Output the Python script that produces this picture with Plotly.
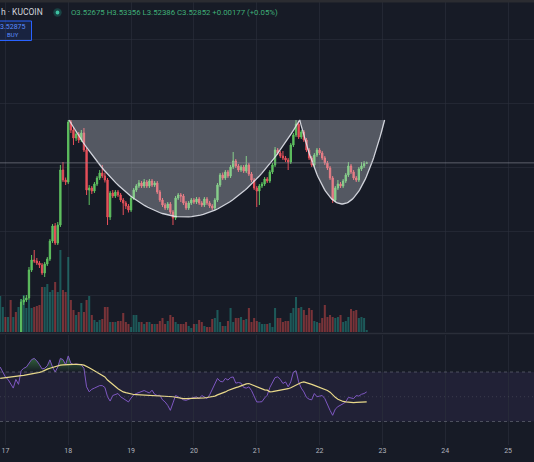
import numpy as np
import pandas as pd
import plotly.graph_objects as go

# ---------------- data ----------------
bar_start = "2023-03-16 22:00"   # hourly bars

opens = [
    2.79, 2.80, 2.812, 2.796, 2.82, 2.804, 2.828, 2.816, 2.836, 2.972,
    2.98, 2.988, 3.10, 3.14, 3.136, 3.128, 3.12,
    3.088, 3.124, 3.144, 3.216, 3.276, 3.208, 3.28, 3.50, 3.46, 3.452,
    3.692, 3.66, 3.628, 3.644, 3.62, 3.648, 3.58, 3.42, 3.428, 3.416,
    3.444, 3.468, 3.488, 3.476, 3.46, 3.312, 3.408, 3.396, 3.412, 3.40,
    3.38, 3.368, 3.356, 3.34, 3.388, 3.42, 3.436, 3.448, 3.436, 3.452,
    3.436, 3.456, 3.44, 3.448, 3.412, 3.38, 3.36, 3.348, 3.364, 3.332,
    3.308, 3.388,
    3.40, 3.396, 3.368, 3.348, 3.368, 3.38, 3.372, 3.384, 3.368,
    3.36, 3.384, 3.368, 3.356, 3.348, 3.38, 3.44, 3.48, 3.468, 3.492,
    3.476, 3.512, 3.536, 3.516, 3.50, 3.512, 3.496, 3.52, 3.484, 3.46,
    3.428, 3.416, 3.436, 3.444, 3.464, 3.456, 3.492, 3.52, 3.58, 3.568,
    3.556, 3.548, 3.54, 3.532, 3.60, 3.64, 3.684, 3.632, 3.652,
    3.62, 3.58, 3.548, 3.52, 3.56, 3.58, 3.568, 3.548, 3.528, 3.508,
    3.468, 3.38, 3.428, 3.444, 3.436, 3.456, 3.48, 3.516, 3.492, 3.468,
    3.46, 3.504, 3.516, 3.52675,
]
highs = [
    2.81, 2.82, 2.82, 2.828, 2.83, 2.836, 2.836, 2.844, 2.984, 2.996,
    3.00, 3.112, 3.16, 3.18, 3.148, 3.136, 3.128,
    3.132, 3.152, 3.224, 3.284, 3.288, 3.292, 3.52, 3.532, 3.47, 3.70,
    3.70, 3.672, 3.656, 3.652, 3.66, 3.668, 3.588, 3.44, 3.436, 3.452,
    3.476, 3.50, 3.52, 3.49, 3.468, 3.416, 3.42, 3.42, 3.42, 3.408,
    3.388, 3.376, 3.364, 3.396, 3.428, 3.444, 3.46, 3.456, 3.464, 3.46,
    3.464, 3.464, 3.456, 3.456, 3.42, 3.388, 3.368, 3.372, 3.372, 3.34,
    3.396, 3.408,
    3.408, 3.404, 3.376, 3.376, 3.388, 3.388, 3.392, 3.392, 3.376,
    3.392, 3.392, 3.376, 3.364, 3.388, 3.448, 3.488, 3.49, 3.50, 3.50,
    3.52, 3.572, 3.544, 3.524, 3.52, 3.52, 3.556, 3.528, 3.492, 3.468,
    3.436, 3.444, 3.452, 3.472, 3.472, 3.50, 3.528, 3.592, 3.588, 3.576,
    3.576, 3.556, 3.548, 3.608, 3.648, 3.70, 3.696, 3.66, 3.66,
    3.628, 3.588, 3.556, 3.568, 3.588, 3.588, 3.576, 3.556, 3.536, 3.516,
    3.476, 3.436, 3.46, 3.452, 3.464, 3.488, 3.532, 3.524, 3.50, 3.476,
    3.512, 3.532, 3.536, 3.53356,
]
lows = [
    2.782, 2.792, 2.788, 2.788, 2.796, 2.80, 2.808, 2.81, 2.83, 2.96,
    2.972, 2.98, 3.092, 3.128, 3.12, 3.108, 3.08,
    3.072, 3.116, 3.136, 3.208, 3.20, 3.20, 3.272, 3.452, 3.44, 3.444,
    3.648, 3.60, 3.616, 3.608, 3.612, 3.572, 3.40, 3.36, 3.404, 3.408,
    3.436, 3.46, 3.468, 3.45, 3.28, 3.30, 3.388, 3.388, 3.392, 3.372,
    3.32, 3.344, 3.33, 3.332, 3.38, 3.412, 3.428, 3.428, 3.428, 3.428,
    3.428, 3.432, 3.432, 3.404, 3.372, 3.352, 3.34, 3.34, 3.324, 3.28,
    3.30, 3.38,
    3.372, 3.36, 3.34, 3.34, 3.36, 3.364, 3.364, 3.36, 3.352,
    3.352, 3.36, 3.348, 3.34, 3.34, 3.372, 3.432, 3.46, 3.46, 3.468,
    3.468, 3.504, 3.508, 3.492, 3.492, 3.488, 3.488, 3.476, 3.452, 3.42,
    3.352, 3.36, 3.428, 3.436, 3.448, 3.448, 3.484, 3.512, 3.56, 3.548,
    3.54, 3.532, 3.50, 3.524, 3.592, 3.632, 3.624, 3.624, 3.612,
    3.572, 3.54, 3.512, 3.512, 3.552, 3.56, 3.54, 3.52, 3.50, 3.46,
    3.368, 3.372, 3.42, 3.428, 3.428, 3.448, 3.472, 3.484, 3.46, 3.452,
    3.452, 3.496, 3.508, 3.52386,
]
closes = [
    2.80, 2.812, 2.796, 2.82, 2.804, 2.828, 2.816, 2.836, 2.972, 2.98,
    2.988, 3.10, 3.14, 3.136, 3.128, 3.12, 3.088,
    3.124, 3.144, 3.216, 3.276, 3.208, 3.28, 3.50, 3.46, 3.452, 3.692,
    3.66, 3.628, 3.644, 3.62, 3.648, 3.58, 3.42, 3.428, 3.416, 3.444,
    3.468, 3.488, 3.476, 3.46, 3.312, 3.408, 3.396, 3.412, 3.40, 3.38,
    3.368, 3.356, 3.34, 3.388, 3.42, 3.436, 3.448, 3.436, 3.452, 3.436,
    3.456, 3.44, 3.448, 3.412, 3.38, 3.36, 3.348, 3.364, 3.332, 3.308,
    3.388, 3.40,
    3.396, 3.368, 3.348, 3.368, 3.38, 3.372, 3.384, 3.368, 3.36,
    3.384, 3.368, 3.356, 3.348, 3.38, 3.44, 3.48, 3.468, 3.492, 3.476,
    3.512, 3.536, 3.516, 3.50, 3.512, 3.496, 3.52, 3.484, 3.46, 3.428,
    3.416, 3.436, 3.444, 3.464, 3.456, 3.492, 3.52, 3.58, 3.568, 3.556,
    3.548, 3.54, 3.532, 3.60, 3.64, 3.684, 3.632, 3.652, 3.62,
    3.58, 3.548, 3.52, 3.56, 3.58, 3.568, 3.548, 3.528, 3.508, 3.468,
    3.38, 3.428, 3.444, 3.436, 3.456, 3.48, 3.516, 3.492, 3.468, 3.46,
    3.504, 3.516, 3.52675, 3.52852,
]
volumes = [
    36, 25, 15, 15, 32, 15, 20, 25, 33, 37,
    24, 32, 24, 25, 26, 27, 45,
    45, 48, 40, 42, 50, 40, 82, 42, 40, 75,
    32, 22, 17, 20, 29, 20, 32, 36, 17, 12,
    10, 12, 13, 25, 25, 10, 10, 10, 11, 11,
    19, 10, 8, 5, 17, 17, 10, 10, 8, 10,
    10, 8, 8, 8, 11, 14, 8, 11, 17, 15,
    10, 8,
    8, 8, 10, 6, 4, 8, 8, 12, 10,
    6, 5, 5, 13, 14, 22, 10, 6, 6, 11,
    24, 10, 14, 14, 15, 12, 13, 24, 10, 14,
    11, 10, 8, 8, 8, 9, 5, 24, 14, 14,
    10, 11, 11, 19, 24, 35, 24, 25, 22,
    17, 24, 22, 11, 10, 9, 14, 27, 15, 17,
    15, 14, 15, 17, 10, 11, 15, 23, 21, 22,
    14, 15, 14, 2,
]
rsi_values = [
    74, 70, 66, 64, 61, 57, 64, 60, 71, 73,
    74, 77, 80, 81, 79, 76, 72.5,
    73, 75, 79.8, 74, 70, 74, 81, 80, 76, 83,
    77, 76, 76.5, 76, 75.7, 73, 58, 54, 56, 57,
    58, 59, 59, 57.5, 50, 46.5, 51, 52, 52.6, 50,
    48.5, 47, 45.8, 49, 51.5, 52.6, 53.5, 53.9, 55, 54,
    53, 55.3, 52, 51, 51.2, 47.5, 45.8, 43, 39, 45,
    51, 50,
    48.5, 47.5, 47.1, 48, 48.5, 49.5, 49.8, 48.5, 51,
    50, 48.5, 51.5, 56, 60.7, 64.8, 62.5, 62, 64.8, 63.5,
    65.5, 66, 61, 61.5, 61, 57.5, 57, 58, 55, 50,
    45.8, 45.8, 46, 49, 51.2, 57.5, 62, 65.5, 66, 64,
    60.7, 62, 58, 62, 70, 71, 62, 57, 53.9,
    49.5, 48, 47.5, 52.6, 50, 50.5, 51, 48.5, 43, 39,
    35, 40, 42, 43, 44.4, 45.8, 49.5, 49, 48.5, 51,
    50.5, 52, 52.6, 53.9,
]
rsi_ma_values = [
    64.8, 65, 65.3, 65.5, 65.8, 66, 66.3, 66.6, 67, 67.3,
    67.6, 68, 68.4, 68.8, 69.2, 69.7, 70.3,
    71.6, 72.3, 73, 73.7, 74.3, 75, 75.6, 75.8, 76, 76.1,
    76.2, 76.2, 76.2, 76.2, 76, 75.5, 74.8, 73.5, 72.2, 71,
    69.8, 69, 67.5, 66, 63.5, 61.5, 60, 58.3, 56.5, 55,
    53.9, 53.3, 52.7, 52.2, 51.8, 51.7, 51.6, 51.5, 51.4, 51.3,
    51.2, 51.1, 51, 50.8, 50.7, 50.6, 50.5, 50.4, 50.2, 50,
    49.6, 49.2,
    48.6, 48.5, 48.5, 48.5, 48.5, 48.5, 48.5, 48.5, 48.8,
    49.1, 49.4, 49.7, 49.8, 50.5, 51.5, 52.2, 53, 53.9, 55,
    56, 56.8, 57.4, 58, 59, 59.8, 60.4, 60.7, 59.8, 58.8,
    58, 57, 56.2, 55.6, 55.3, 54, 54.2, 54.5, 54.8, 55.1,
    55.6, 55.9, 56.5, 57.3, 58.5, 59.4, 60.5, 61.5, 62,
    61.5, 60.8, 60, 59.2, 58.4, 57.8, 57, 56.2, 55, 53.7,
    51.2, 49.5, 48, 46.8, 46.2, 45.8, 45.5, 45.3, 45.3, 45.4,
    45.5, 45.6, 45.7, 45.8,
]

# cup & handle drawing (rim / bottoms)
cup_times = ["2023-03-18 00:15", "2023-03-21 16:25", "2023-03-23 00:50"]
cup_rim_price = 3.70
cup_bottom_prices = [3.312, 3.364]

last_price = 3.52852
price_grid = [3.0, 3.256, 3.512, 3.768, 4.024]
rsi_levels = [70, 50, 30]
header_symbol = "h · KUCOIN"
header_ohlc = "O3.52675 H3.53356 L3.52386 C3.52852 +0.00177 (+0.05%)"
buy_price_text = "3.52875"
buy_text = "BUY"
x_view = ["2023-03-16 21:56", "2023-03-25 09:54"]
first_day_tick = "2023-03-17"

# ---------------- style ----------------
W, H = 534, 462
BG = "#171b26"
GRID = "rgba(44,48,60,0.6)"
UP = "#5fc160"
DOWN = "#e6505a"
FONT = "Roboto"

def px_x(x):
    return x / W

def px_y(y):
    return 1 - y / H

times = pd.date_range(bar_start, periods=len(closes), freq="h")
o = np.array(opens); c = np.array(closes)
vol_colors = ["rgba(38,166,154,0.45)" if cc >= oo else "rgba(239,83,80,0.45)" for oo, cc in zip(o, c)]

fig = go.Figure()

# volume (behind candles)
fig.add_trace(go.Bar(x=times, y=volumes, marker=dict(color=vol_colors, line=dict(width=0)),
                     width=3600000 * 0.78, xaxis="x", yaxis="y", showlegend=False, hoverinfo="skip"))

# candles
fig.add_trace(go.Candlestick(
    x=times, open=opens, high=highs, low=lows, close=closes,
    increasing=dict(line=dict(color=UP, width=1), fillcolor=UP),
    decreasing=dict(line=dict(color=DOWN, width=1), fillcolor=DOWN),
    whiskerwidth=0, xaxis="x", yaxis="y3", showlegend=False, hoverinfo="skip"))

# cup & handle curves (quadratic Bezier between rim points)
def curve(t_a, t_b, rim, bottom, n=80):
    ta, tb = pd.Timestamp(t_a), pd.Timestamp(t_b)
    s = np.linspace(0, 1, n)
    ctrl = 2 * bottom - rim
    yy = (1 - s) ** 2 * rim + 2 * s * (1 - s) * ctrl + s ** 2 * rim
    xx = [ta + (tb - ta) * float(v) for v in s]
    return xx, list(yy)

x1, y1 = curve(cup_times[0], cup_times[1], cup_rim_price, cup_bottom_prices[0])
x2, y2 = curve(cup_times[1], cup_times[2], cup_rim_price, cup_bottom_prices[1])
poly_x = x1 + x2[1:] + [pd.Timestamp(cup_times[0])]
poly_y = y1 + y2[1:] + [cup_rim_price]
fig.add_trace(go.Scatter(x=poly_x, y=poly_y, mode="lines", fill="toself",
                         fillcolor="rgba(235,237,245,0.29)", line=dict(width=0),
                         xaxis="x", yaxis="y3", showlegend=False, hoverinfo="skip"))
fig.add_trace(go.Scatter(x=x1 + x2[1:], y=y1 + y2[1:], mode="lines",
                         line=dict(color="rgba(225,227,235,0.9)", width=1.3),
                         xaxis="x", yaxis="y3", showlegend=False, hoverinfo="skip"))

# RSI pane
rsi = np.array(rsi_values)
fig.add_trace(go.Scatter(x=times, y=np.full(len(rsi), rsi_levels[0]), mode="lines",
                         line=dict(width=0), xaxis="x2", yaxis="y2", showlegend=False, hoverinfo="skip"))
fig.add_trace(go.Scatter(x=times, y=np.maximum(rsi, rsi_levels[0]), mode="lines", fill="tonexty",
                         fillgradient=dict(type="vertical", start=70, stop=90,
                                           colorscale=[[0, "rgba(76,175,80,0)"], [1, "rgba(76,175,80,0.85)"]]),
                         line=dict(width=0),
                         xaxis="x2", yaxis="y2", showlegend=False, hoverinfo="skip"))
fig.add_trace(go.Scatter(x=times, y=rsi_values, mode="lines", line=dict(color="#7e57c2", width=1),
                         xaxis="x2", yaxis="y2", showlegend=False, hoverinfo="skip"))
fig.add_trace(go.Scatter(x=times, y=rsi_ma_values, mode="lines", line=dict(color="#e9d98a", width=1.2),
                         xaxis="x2", yaxis="y2", showlegend=False, hoverinfo="skip"))

shapes = [
    dict(type="rect", xref="paper", yref="y2", x0=0, x1=1, y0=rsi_levels[2], y1=rsi_levels[0],
         fillcolor="rgba(126,87,194,0.10)", line=dict(width=0), layer="below"),
    dict(type="line", xref="paper", yref="y2", x0=0, x1=1, y0=rsi_levels[0], y1=rsi_levels[0],
         line=dict(color="rgba(120,123,134,0.55)", width=1, dash="3px,3px")),
    dict(type="line", xref="paper", yref="y2", x0=0, x1=1, y0=rsi_levels[2], y1=rsi_levels[2],
         line=dict(color="rgba(120,123,134,0.55)", width=1, dash="3px,3px")),
    dict(type="line", xref="paper", yref="y2", x0=0, x1=1, y0=rsi_levels[1], y1=rsi_levels[1],
         line=dict(color="rgba(120,123,134,0.30)", width=1, dash="1px,3px")),
    dict(type="line", xref="paper", yref="y3", x0=0, x1=1, y0=last_price, y1=last_price,
         line=dict(color="rgba(150,153,162,0.55)", width=1)),
    dict(type="line", xref="paper", yref="paper", x0=0, x1=1, y0=px_y(333.5), y1=px_y(333.5),
         line=dict(color="#2a2e39", width=1.5)),
    dict(type="rect", xref="paper", yref="paper", x0=0, x1=1, y0=px_y(2.5), y1=1,
         fillcolor="#2b2c31", line=dict(width=0)),
    # buy box
    dict(type="rect", xref="paper", yref="paper", x0=px_x(-6), x1=px_x(31.5), y0=px_y(40.5), y1=px_y(21),
         fillcolor="rgba(41,98,255,0.12)", line=dict(color="#2962ff", width=1)),
    # market status dot
    dict(type="circle", xref="paper", yref="paper", x0=px_x(53.3), x1=px_x(61.7), y0=px_y(16.7), y1=px_y(8.3),
         fillcolor="rgba(34,171,148,0.28)", line=dict(width=0)),
    dict(type="circle", xref="paper", yref="paper", x0=px_x(55.6), x1=px_x(59.4), y0=px_y(14.4), y1=px_y(10.6),
         fillcolor="#3fc2a2", line=dict(width=0)),
]

annotations = [
    dict(text=header_symbol, xref="paper", yref="paper", x=px_x(-1), y=px_y(12.5), xanchor="left", yanchor="middle",
         showarrow=False, font=dict(family=FONT, size=8.5, color="#d1d4dc")),
    dict(text=header_ohlc, xref="paper", yref="paper", x=px_x(69), y=px_y(12.5), xanchor="left", yanchor="middle",
         showarrow=False, font=dict(family=FONT, size=7.8, color="#3fae78")),
    dict(text=buy_price_text, xref="paper", yref="paper", x=px_x(12.5), y=px_y(26.5), xanchor="center", yanchor="middle",
         showarrow=False, font=dict(family=FONT, size=7, color="#5b8cff")),
    dict(text=buy_text, xref="paper", yref="paper", x=px_x(12.5), y=px_y(34.5), xanchor="center", yanchor="middle",
         showarrow=False, font=dict(family=FONT, size=6, color="#5b8cff")),
]

day_ms = 86400000
fig.update_layout(
    width=W, height=H, margin=dict(l=0, r=0, t=0, b=0),
    paper_bgcolor=BG, plot_bgcolor=BG, showlegend=False, boxgap=0.28,
    font=dict(family=FONT),
    xaxis=dict(domain=[0, 1], anchor="y", type="date", range=x_view, showticklabels=False,
               showgrid=True, gridcolor=GRID, gridwidth=1, dtick=day_ms, tick0=first_day_tick,
               zeroline=False, showline=False, rangeslider=dict(visible=False), fixedrange=True),
    xaxis2=dict(domain=[0, 1], anchor="y2", type="date", range=x_view, matches="x",
                showticklabels=True, tickformat="%d", dtick=day_ms, tick0=first_day_tick,
                showgrid=True, gridcolor=GRID, gridwidth=1, ticks="", zeroline=False, showline=False,
                tickfont=dict(family=FONT, size=7, color="#b2b5be"), rangeslider=dict(visible=False)),
    yaxis=dict(domain=[px_y(332), 1], range=[0, 332], showticklabels=False, showgrid=False, zeroline=False),
    yaxis3=dict(overlaying="y", range=[2.852, 4.18], showticklabels=False, showgrid=True, gridcolor=GRID,
                tickvals=price_grid, zeroline=False, side="right"),
    yaxis2=dict(domain=[px_y(445), px_y(335)], range=[11.0, 99.9], showticklabels=False, showgrid=False,
                zeroline=False),
    shapes=shapes, annotations=annotations,
)

fig.write_html("out.html")
